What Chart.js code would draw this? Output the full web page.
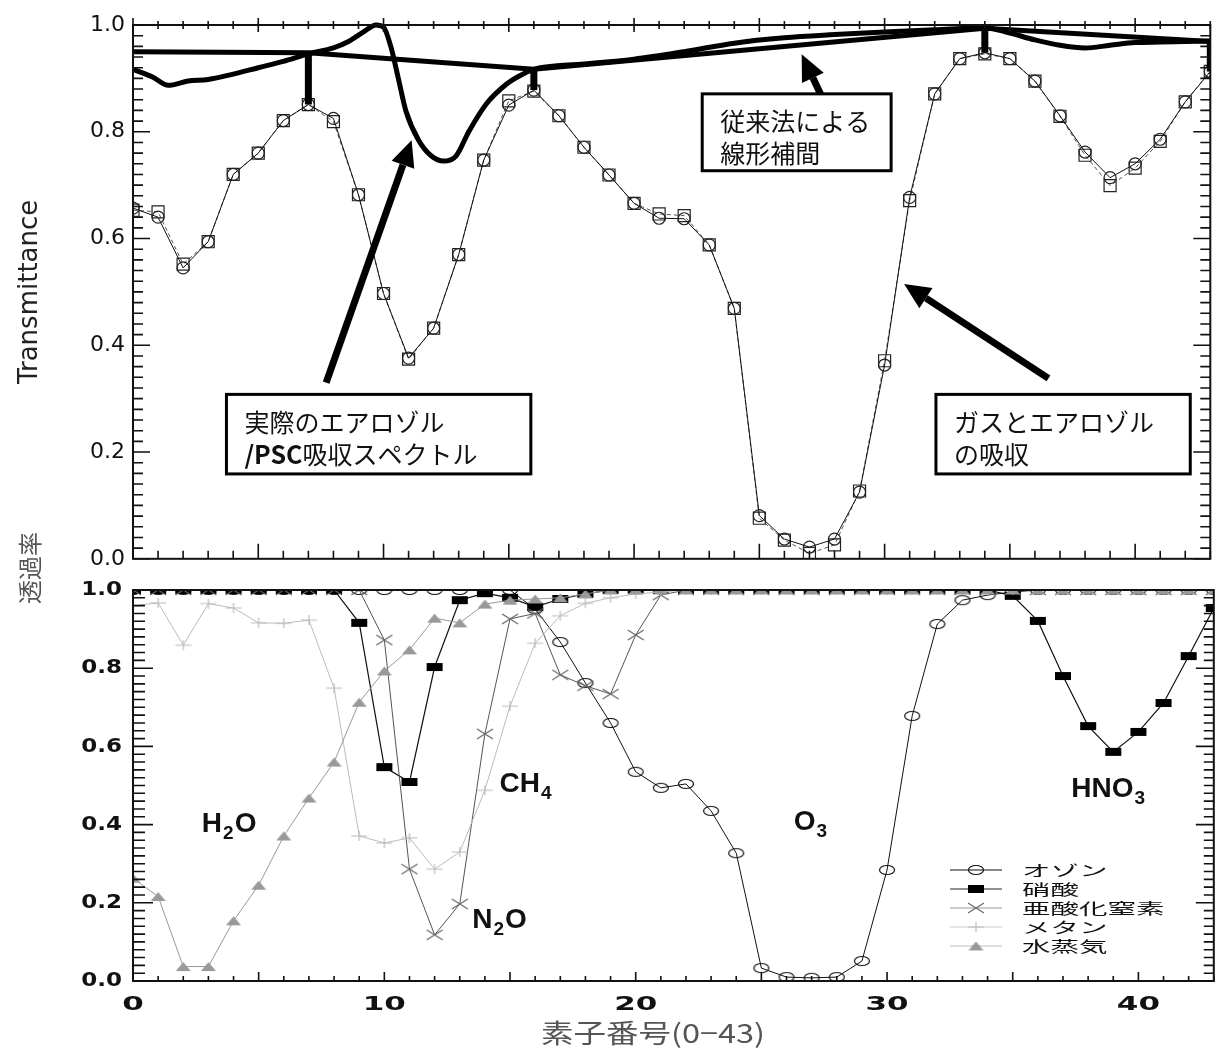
<!DOCTYPE html>
<html lang="ja">
<head>
<meta charset="UTF-8">
<title>透過率</title>
<script src="https://cdn.jsdelivr.net/npm/chart.js"></script>
<style>
  body { margin: 0; background: #fff; }
  #wrap { position: relative; width: 1220px; height: 1050px; }
  canvas { position: absolute; left: 0; }
  #top { top: 0; }
  #bottom { top: 500px; }
</style>
</head>
<body>
<div id="wrap">
  <canvas id="top" width="1220" height="580"></canvas>
  <canvas id="bottom" width="1220" height="550"></canvas>
</div>
<script>
// element number 0..43
const elemIdx = [0,1,2,3,4,5,6,7,8,9,10,11,12,13,14,15,16,17,18,19,20,21,
                 22,23,24,25,26,27,28,29,30,31,32,33,34,35,36,37,38,39,40,41,42,43];

// upper panel: gas + aerosol transmittance (two retrievals)
const transCircle = [0.657,0.640,0.545,0.594,0.720,0.760,0.821,0.851,0.825,0.682,0.497,
                     0.376,0.432,0.570,0.747,0.850,0.878,0.830,0.771,0.719,0.666,0.638,
                     0.637,0.588,0.469,0.081,0.037,0.022,0.037,0.125,0.363,0.677,0.871,
                     0.937,0.948,0.937,0.895,0.830,0.762,0.714,0.740,0.786,0.856,0.913];
const transSquare = [0.653,0.650,0.552,0.594,0.720,0.760,0.821,0.851,0.819,0.682,0.497,
                     0.374,0.432,0.570,0.747,0.858,0.876,0.830,0.771,0.719,0.666,0.646,
                     0.643,0.588,0.469,0.076,0.035,0.010,0.026,0.127,0.371,0.671,0.871,
                     0.937,0.946,0.937,0.895,0.829,0.756,0.699,0.732,0.782,0.856,0.913];

// actual aerosol / PSC spectrum
const aerosolX = [0,0.8,1.4,2.2,3,4,5,6,7,8,8.6,9.2,9.7,10,10.3,10.6,10.9,11.4,11.9,12.4,
                  12.9,13.4,14.1,14.9,15.4,16,18,20,22,24,26,28,30,32,34,35,36,37,38,39,
                  40,41,42,43];
const aerosolY = [0.917,0.902,0.887,0.895,0.898,0.908,0.920,0.932,0.946,0.957,0.969,0.987,
                  1.000,0.996,0.958,0.898,0.838,0.784,0.755,0.745,0.755,0.800,0.852,0.889,
                  0.904,0.917,0.927,0.936,0.950,0.966,0.976,0.982,0.987,0.991,0.995,0.985,
                  0.972,0.962,0.957,0.962,0.967,0.968,0.969,0.970];

// conventional linear interpolation between window channels
const interpX = [0, 7, 16, 34, 43];
const interpY = [0.950, 0.948, 0.917, 0.994, 0.969];
const anchorX = [7, 16, 34, 43];
const anchorTop = [0.948, 0.917, 0.994, 0.969];
const anchorBottom = [0.851, 0.878, 0.948, 0.913];

// lower panel: per-gas transmittance
const ozone = [1,1,1,1,1,1,1,1,1,1,1,1,1,1,1,1,
               0.951,0.867,0.762,0.660,0.535,0.494,0.504,0.435,0.327,0.033,0.010,0.008,
               0.010,0.051,0.284,0.678,0.913,0.974,0.987,0.995,
               1,1,1,1,1,1,1,1];
const hno3 = [1,1,1,1,1,1,1,1,1,
              0.916,0.547,0.509,0.803,0.974,0.992,0.980,0.957,0.977,0.990,
              1,1,1,1,1,1,1,1,1,1,1,1,1,1,1,1,
              0.985,0.921,0.780,0.652,0.586,0.637,0.711,0.831,0.954];
const n2o = [1,1,1,1,1,1,1,1,1,1,
             0.872,0.286,0.118,0.197,0.632,0.926,0.940,0.783,0.755,0.734,0.885,0.987,
             1,1,1,1,1,1,1,1,1,1,1,1,1,1,1,1,1,1,1,1,1,1];
const methane = [0.960,0.967,0.859,0.965,0.954,0.916,0.915,0.923,0.749,0.371,0.353,
                 0.366,0.286,0.330,0.488,0.703,0.864,0.934,0.966,0.980,0.990,0.995,
                 1,1,1,1,1,1,1,1,1,1,1,1,1,1,1,1,1,1,1,1,1,1];
const water = [0.263,0.216,0.037,0.037,0.154,0.245,0.371,0.468,0.560,0.713,0.793,
               0.847,0.928,0.916,0.964,0.974,0.977,0.980,0.990,
               1,1,1,1,1,1,1,1,1,1,1,1,1,1,1,1,1,1,1,1,1,1,1,1,1];

const yTicks = [0, 0.2, 0.4, 0.6, 0.8, 1.0];
const xTicks = [0, 10, 20, 30, 40];

const pts = (xs, ys) => xs.map((v, i) => ({ x: v, y: ys[i] }));

// vertical bars joining the interpolation line to the measured points
const anchorSegments = [];
anchorX.forEach((v, i) => {
  anchorSegments.push({ x: v, y: anchorTop[i] }, { x: v, y: anchorBottom[i] }, { x: v, y: null });
});

const CJK = '"Noto Sans CJK JP", sans-serif';

// marker images for the lower panel (flattened shapes)
function marker(kind, w, h, stroke, fill) {
  const c = document.createElement('canvas');
  c.width = w + 2; c.height = h + 2;
  const g = c.getContext('2d');
  g.translate(1, 1);
  g.lineWidth = 1.2;
  g.strokeStyle = stroke;
  g.fillStyle = fill;
  g.beginPath();
  if (kind === 'ellipse') {
    g.ellipse(w / 2, h / 2, w / 2 - 0.5, h / 2 - 0.5, 0, 0, Math.PI * 2);
    g.stroke();
  } else if (kind === 'rect') {
    g.fillRect(0, 0, w, h);
  } else if (kind === 'cross') {
    g.moveTo(0, 0); g.lineTo(w, h); g.moveTo(w, 0); g.lineTo(0, h); g.stroke();
  } else if (kind === 'plus') {
    g.moveTo(0, h / 2); g.lineTo(w, h / 2); g.moveTo(w / 2, 0); g.lineTo(w / 2, h); g.stroke();
  } else if (kind === 'triangle') {
    g.moveTo(w / 2, 0); g.lineTo(w, h); g.lineTo(0, h); g.closePath(); g.fill();
  }
  return c;
}

const mOzone = marker('ellipse', 16, 10, '#111', '#fff');
const mHno3 = marker('rect', 16, 8, '#000', '#000');
const mN2o = marker('cross', 16, 10, '#666', '#666');
const mCh4 = marker('plus', 16, 10, '#bbb', '#bbb');
const mH2o = marker('triangle', 15, 9, '#999', '#999');

// box frame with inward ticks, drawn from the chart's own scales
function frameTicks(cfg) {
  return {
    id: 'frameTicks',
    afterDatasetsDraw(chart) {
      const { ctx, chartArea: a, scales: { x, y } } = chart;
      ctx.save();
      ctx.strokeStyle = '#111';
      ctx.lineWidth = 2;
      ctx.strokeRect(a.left, a.top, a.right - a.left, a.bottom - a.top);
      ctx.lineWidth = 1.6;
      ctx.beginPath();
      for (let v = 0; v <= 43; v++) {
        const px = x.getPixelForValue(v);
        const major = v % 5 === 0;
        const lb = major ? cfg.bottomMajor : cfg.bottomMinor;
        ctx.moveTo(px, a.bottom); ctx.lineTo(px, a.bottom - lb);
        if (cfg.topTicks) {
          const lt = major ? 7 : 4;
          ctx.moveTo(px, a.top - lt); ctx.lineTo(px, a.top + lt);
        }
      }
      for (let i = 0; i <= 50; i++) {
        const py = y.getPixelForValue(i / 50);
        const major = i % 10 === 0;
        const ll = major ? cfg.leftMajor : cfg.leftMinor;
        const lr = major ? cfg.rightMajor : cfg.rightMinor;
        ctx.moveTo(a.left, py); ctx.lineTo(a.left + ll, py);
        ctx.moveTo(a.right, py); ctx.lineTo(a.right - lr, py);
      }
      ctx.stroke();
      ctx.restore();
    }
  };
}

// callout boxes and arrows of the upper panel (positions in data units)
const callouts = [
  { x0: 3.73, x1: 15.88, y0: 0.308, y1: 0.159,
    lines: [[['実際のエアロゾル', '']], [['/PSC', 'bold '], ['吸収スペクトル', '']]] },
  { x0: 22.72, x1: 30.26, y0: 0.871, y1: 0.727,
    lines: [[['従来法による', '']], [['線形補間', '']]] },
  { x0: 32.05, x1: 42.2, y0: 0.308, y1: 0.159,
    lines: [[['ガスとエアロゾル', '']], [['の吸収', '']]] }
];
const arrows = [
  { from: [7.71, 0.330], to: [11.12, 0.784] },
  { from: [27.48, 0.867], to: [26.69, 0.945] },
  { from: [36.54, 0.338], to: [30.78, 0.515] }
];

const upperNotes = {
  id: 'upperNotes',
  afterDraw(chart) {
    const { ctx, chartArea: a, scales: { x, y } } = chart;
    ctx.save();
    ctx.fillStyle = '#000';
    ctx.strokeStyle = '#000';
    arrows.forEach(ar => {
      const x0 = x.getPixelForValue(ar.from[0]), y0 = y.getPixelForValue(ar.from[1]);
      const x1 = x.getPixelForValue(ar.to[0]), y1 = y.getPixelForValue(ar.to[1]);
      const ang = Math.atan2(y1 - y0, x1 - x0);
      const head = 26, half = 12;
      const bx = x1 - head * Math.cos(ang), by = y1 - head * Math.sin(ang);
      ctx.lineWidth = 7;
      ctx.beginPath(); ctx.moveTo(x0, y0); ctx.lineTo(bx, by); ctx.stroke();
      ctx.beginPath();
      ctx.moveTo(x1, y1);
      ctx.lineTo(bx + half * Math.sin(ang), by - half * Math.cos(ang));
      ctx.lineTo(bx - half * Math.sin(ang), by + half * Math.cos(ang));
      ctx.closePath(); ctx.fill();
    });
    callouts.forEach(c => {
      const l = x.getPixelForValue(c.x0), r = x.getPixelForValue(c.x1);
      const t = y.getPixelForValue(c.y0), b = y.getPixelForValue(c.y1);
      ctx.fillStyle = '#fff';
      ctx.fillRect(l, t, r - l, b - t);
      ctx.lineWidth = 3;
      ctx.strokeRect(l, t, r - l, b - t);
      ctx.fillStyle = '#111';
      ctx.textBaseline = 'middle';
      ctx.textAlign = 'left';
      c.lines.forEach((parts, li) => {
        let tx = l + 18;
        const ty = t + 28 + li * 32;
        parts.forEach(([s, w]) => {
          ctx.font = w + '25px ' + CJK;
          ctx.fillText(s, tx, ty);
          tx += ctx.measureText(s).width;
        });
      });
    });
    ctx.font = '26px "DejaVu Sans"';
    ctx.fillStyle = '#222';
    ctx.translate(30, (a.top + a.bottom) / 2);
    ctx.rotate(-Math.PI / 2);
    ctx.textAlign = 'center';
    ctx.textBaseline = 'middle';
    ctx.fillText('Transmittance', 0, 0);
    ctx.restore();
  }
};

// gas names inside the lower panel (data units, baseline-left)
const gasLabels = [
  { x: 2.74, y: 0.381, main: 'H', sub: '2', tail: 'O' },
  { x: 13.50, y: 0.136, main: 'N', sub: '2', tail: 'O' },
  { x: 14.58, y: 0.483, main: 'CH', sub: '4', tail: '' },
  { x: 26.29, y: 0.386, main: 'O', sub: '3', tail: '' },
  { x: 37.33, y: 0.471, main: 'HNO', sub: '3', tail: '' }
];

const legendRows = [
  { name: 'オゾン', color: '#111', img: mOzone },
  { name: '硝酸', color: '#222', img: mHno3 },
  { name: '亜酸化窒素', color: '#999', img: mN2o },
  { name: 'メタン', color: '#ccc', img: mCh4 },
  { name: '水蒸気', color: '#bbb', img: mH2o }
];

function stretchedText(ctx, s, px, py, sx, align) {
  ctx.save();
  ctx.translate(px, py);
  ctx.scale(sx, 1);
  ctx.textAlign = align;
  ctx.fillText(s, 0, 0);
  ctx.restore();
}

const lowerNotes = {
  id: 'lowerNotes',
  afterDraw(chart) {
    const { ctx, chartArea: a, scales: { x, y } } = chart;
    ctx.save();
    ctx.fillStyle = '#111';
    // tick labels
    ctx.font = 'bold 20px "DejaVu Sans"';
    ctx.textBaseline = 'middle';
    yTicks.forEach(v => stretchedText(ctx, v.toFixed(1), 122, y.getPixelForValue(v), 1.15, 'right'));
    ctx.textBaseline = 'alphabetic';
    xTicks.forEach(v => stretchedText(ctx, String(v), x.getPixelForValue(v), a.bottom + 29, 1.55, 'center'));
    // gas names
    gasLabels.forEach(g => {
      let px = x.getPixelForValue(g.x);
      const py = y.getPixelForValue(g.y);
      ctx.textAlign = 'left';
      ctx.font = 'bold 28px "Liberation Sans"';
      ctx.fillText(g.main, px, py);
      px += ctx.measureText(g.main).width + 1;
      ctx.font = 'bold 19px "Liberation Sans"';
      ctx.fillText(g.sub, px, py + 7);
      px += ctx.measureText(g.sub).width + 1;
      if (g.tail) {
        ctx.font = 'bold 28px "Liberation Sans"';
        ctx.fillText(g.tail, px, py);
      }
    });
    // legend
    const lx = 950, ly = 370, step = 19;
    legendRows.forEach((r, i) => {
      const yy = ly + i * step;
      ctx.strokeStyle = r.color;
      ctx.lineWidth = 1.2;
      ctx.beginPath(); ctx.moveTo(lx, yy); ctx.lineTo(lx + 52, yy); ctx.stroke();
      ctx.drawImage(r.img, lx + 26 - r.img.width / 2, yy - r.img.height / 2);
      ctx.fillStyle = '#111';
      ctx.font = '15px ' + CJK;
      ctx.textBaseline = 'middle';
      stretchedText(ctx, r.name, lx + 72, yy, 1.9, 'left');
    });
    // axis titles
    ctx.fillStyle = '#555';
    ctx.font = '26px ' + CJK;
    ctx.textBaseline = 'middle';
    stretchedText(ctx, '素子番号(0−43)', 653, 533, 1.25, 'center');
    ctx.translate(30, 68);
    ctx.rotate(-Math.PI / 2);
    ctx.font = '24px ' + CJK;
    ctx.textAlign = 'center';
    ctx.fillText('透過率', 0, 0);
    ctx.restore();
  }
};

const hidden = { display: false, drawTicks: false };

new Chart(document.getElementById('top'), {
  type: 'line',
  data: {
    datasets: [
      { label: '線形補間', data: pts(interpX, interpY), borderColor: '#000', borderWidth: 5,
        pointRadius: 0, tension: 0, clip: false },
      { label: 'エアロゾル', data: pts(aerosolX, aerosolY), borderColor: '#000', borderWidth: 5,
        pointRadius: 0, cubicInterpolationMode: 'monotone', clip: false },
      { label: 'anchors', data: anchorSegments, borderColor: '#000', borderWidth: 7,
        pointRadius: 0, spanGaps: false, borderCapStyle: 'butt' },
      { label: 'ガスとエアロゾル', data: pts(elemIdx, transCircle), borderColor: '#111', borderWidth: 1,
        pointStyle: 'circle', pointRadius: 6, pointBorderColor: '#222', pointBorderWidth: 1.2,
        pointBackgroundColor: 'rgba(0,0,0,0)' },
      { label: 'ガスとエアロゾル2', data: pts(elemIdx, transSquare), borderColor: '#555', borderWidth: 1,
        borderDash: [4, 3], pointStyle: 'rect', pointRadius: 8.5, pointBorderColor: '#222',
        pointBorderWidth: 1.2, pointBackgroundColor: 'rgba(0,0,0,0)' }
    ]
  },
  options: {
    responsive: false,
    animation: false,
    events: [],
    layout: { padding: { top: 25, right: 5, left: 0, bottom: 0 } },
    plugins: { legend: { display: false }, tooltip: { enabled: false } },
    scales: {
      x: { type: 'linear', min: 0, max: 43, ticks: { display: false }, grid: hidden,
           border: { display: false }, afterFit(s) { s.height = 13; } },
      y: { min: 0, max: 1, grid: hidden, border: { display: false },
           ticks: { stepSize: 0.2, padding: 8, color: '#111', callback: v => v.toFixed(1),
                    font: { family: 'DejaVu Sans', size: 22 } },
           afterFit(s) { s.width = 133; } }
    }
  },
  plugins: [frameTicks({ topTicks: true, bottomMajor: 15, bottomMinor: 8, leftMajor: 17,
                         leftMinor: 10, rightMajor: 17, rightMinor: 10 }), upperNotes]
});

new Chart(document.getElementById('bottom'), {
  type: 'line',
  data: {
    datasets: [
      { label: 'オゾン', data: pts(elemIdx, ozone), borderColor: '#111', borderWidth: 1,
        pointStyle: mOzone, pointRadius: 5, order: 4 },
      { label: '硝酸', data: pts(elemIdx, hno3), borderColor: '#111', borderWidth: 1.2,
        pointStyle: mHno3, pointRadius: 5, order: 3 },
      { label: '亜酸化窒素', data: pts(elemIdx, n2o), borderColor: '#555', borderWidth: 1,
        pointStyle: mN2o, pointRadius: 5, order: 2 },
      { label: 'メタン', data: pts(elemIdx, methane), borderColor: '#bbb', borderWidth: 1,
        pointStyle: mCh4, pointRadius: 5, order: 1 },
      { label: '水蒸気', data: pts(elemIdx, water), borderColor: '#999', borderWidth: 1,
        pointStyle: mH2o, pointRadius: 5, order: 0 }
    ]
  },
  options: {
    responsive: false,
    animation: false,
    events: [],
    layout: { padding: { top: 90, right: 5, left: 0, bottom: 0 } },
    plugins: { legend: { display: false }, tooltip: { enabled: false } },
    scales: {
      x: { type: 'linear', min: 0, max: 43, ticks: { display: false }, grid: hidden,
           border: { display: false }, afterFit(s) { s.height = 69; } },
      y: { min: 0, max: 1, ticks: { display: false }, grid: hidden, border: { display: false },
           afterFit(s) { s.width = 133; } }
    }
  },
  plugins: [frameTicks({ topTicks: false, bottomMajor: 9, bottomMinor: 5, leftMajor: 20,
                         leftMinor: 12, rightMajor: 18, rightMinor: 10 }), lowerNotes]
});
</script>
</body>
</html>
